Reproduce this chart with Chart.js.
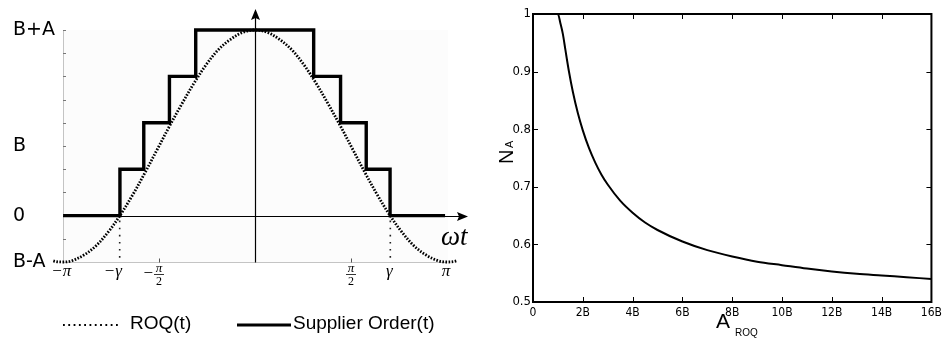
<!DOCTYPE html>
<html><head><meta charset="utf-8">
<script src="https://cdn.jsdelivr.net/npm/chart.js@4.4.1/dist/chart.umd.min.js"></script>
<style>
html,body{margin:0;padding:0;background:#fff;width:946px;height:344px;overflow:hidden}
#c1{position:absolute;left:0;top:0}
#c2{position:absolute;left:490px;top:0}
</style></head><body>
<canvas id="c1" width="490" height="344"></canvas>
<canvas id="c2" width="456" height="344"></canvas>
<script>
// ---------- Left panel data ----------
const gamma = 2.214;
const roqT = [-3.7,-3.5,-3.3,-3.14,-3.0,-2.8,-2.6,-2.4,-2.21,-2.0,-1.8,-1.6,-1.4,-1.2,-1.0,-0.8,-0.6,-0.4,-0.2,0,0.2,0.4,0.6,0.8,1.0,1.2,1.4,1.6,1.8,2.0,2.21,2.4,2.6,2.8,3.0,3.14,3.3,3.5,3.7];
const roqY = [-0.25,-0.34,-0.39,-0.40,-0.39,-0.34,-0.26,-0.14,0.00,0.18,0.37,0.57,0.77,0.96,1.14,1.30,1.43,1.52,1.58,1.60,1.58,1.52,1.43,1.30,1.14,0.96,0.77,0.57,0.37,0.18,0.00,-0.14,-0.26,-0.34,-0.39,-0.40,-0.39,-0.34,-0.25];
const orderT = [-3.14,-2.21,-2.21,-1.82,-1.82,-1.40,-1.40,-0.97,-0.97,0.96,0.96,1.40,1.40,1.82,1.82,2.21,2.21,3.11];
const orderY = [0,0,0.4,0.4,0.8,0.8,1.2,1.2,1.6,1.6,1.2,1.2,0.8,0.8,0.4,0.4,0,0];
const leftYTicks = [-0.4,-0.2,0,0.2,0.4,0.6,0.8,1.0,1.2,1.4,1.6];
const leftYLabels = ['B-A','','0','','','B','','','','','B+A'];
const leftXTicks = [-Math.PI,-gamma,-Math.PI/2,Math.PI/2,gamma,Math.PI];
const leftXLabels = ['−π','−γ','−π/2','π/2','γ','π'];
const leftXMarks = [-Math.PI/2, Math.PI/2];
const seriesNames = ['ROQ(t)','Supplier Order(t)'];

// ---------- Right panel data ----------
const aRoq = [0,0.5,1.0,1.1,1.2,1.3,1.44,1.6,1.8,2.0,2.25,2.5,2.75,3.0,3.5,4,4.5,5,6,7,8,9,10,11,12,13,14,15,16];
const nA = [1,1,1,0.984,0.965,0.938,0.901,0.865,0.828,0.798,0.767,0.742,0.721,0.704,0.676,0.655,0.638,0.625,0.605,0.590,0.579,0.570,0.564,0.558,0.553,0.549,0.546,0.543,0.540];
const rightXTicks = [0,2,4,6,8,10,12,14,16];
const rightXLabels = ['0','2B','4B','6B','8B','10B','12B','14B','16B'];
const rightYTicks = [0.5,0.6,0.7,0.8,0.9,1];
const rightYLabels = ['0.5','0.6','0.7','0.8','0.9','1'];

Chart.defaults.color = '#000';
Chart.defaults.font.family = '"Liberation Sans", Arial, sans-serif';
const narrow = '"Liberation Sans Narrow", "Arial Narrow", "DejaVu Sans Condensed", "Liberation Sans", sans-serif';

const leftDeco = {
  id: 'leftDeco',
  beforeDraw(chart) {
    const {ctx, chartArea: a} = chart;
    ctx.save();
    ctx.fillStyle = '#fcfcfc';
    ctx.fillRect(a.left + 1, a.top, a.right - a.left, a.bottom - a.top);
    ctx.restore();
  },
  beforeDatasetsDraw(chart) {
    const {ctx, chartArea: a, scales: {x, y}} = chart;
    ctx.save();
    ctx.strokeStyle = '#777'; ctx.lineWidth = 1;
    leftYTicks.forEach(v => {
      const py = Math.round(y.getPixelForValue(v)) + 0.5;
      ctx.beginPath(); ctx.moveTo(a.left, py); ctx.lineTo(a.left + 3, py); ctx.stroke();
    });
    const yb = Math.round(y.getPixelForValue(leftYTicks[0])) + 0.5;
    ctx.strokeStyle = '#c4c4c4';
    ctx.beginPath(); ctx.moveTo(x.getPixelForValue(-Math.PI), yb); ctx.lineTo(x.getPixelForValue(Math.PI), yb); ctx.stroke();
    ctx.strokeStyle = '#555';
    leftXMarks.forEach(v => {
      const px = Math.round(x.getPixelForValue(v)) + 0.5;
      ctx.beginPath(); ctx.moveTo(px, yb); ctx.lineTo(px, yb - 4); ctx.stroke();
    });
    const y0 = y.getPixelForValue(0);
    ctx.strokeStyle = '#222'; ctx.lineWidth = 1.6; ctx.setLineDash([1.6, 5.5]);
    [-gamma, gamma].forEach(v => {
      const px = x.getPixelForValue(v);
      ctx.beginPath(); ctx.moveTo(px, y0 + 5); ctx.lineTo(px, yb); ctx.stroke();
    });
    ctx.setLineDash([]);
    const x0 = Math.round(x.getPixelForValue(0)) + 0.5;
    const yz = Math.round(y0) + 0.5;
    ctx.strokeStyle = '#000'; ctx.fillStyle = '#000'; ctx.lineWidth = 1.2;
    ctx.beginPath(); ctx.moveTo(a.left, yz); ctx.lineTo(a.right + 14, yz); ctx.stroke();
    ctx.beginPath(); ctx.moveTo(a.right + 21, yz); ctx.lineTo(a.right + 10, yz - 4.5); ctx.lineTo(a.right + 12, yz); ctx.lineTo(a.right + 10, yz + 4.5); ctx.closePath(); ctx.fill();
    ctx.beginPath(); ctx.moveTo(x0, yb); ctx.lineTo(x0, a.top - 14); ctx.stroke();
    ctx.beginPath(); ctx.moveTo(x0, a.top - 21); ctx.lineTo(x0 - 4.5, a.top - 10); ctx.lineTo(x0, a.top - 12); ctx.lineTo(x0 + 4.5, a.top - 10); ctx.closePath(); ctx.fill();
    ctx.restore();
  },
  afterDraw(chart) {
    const {ctx, chartArea: a, scales: {x, y}} = chart;
    ctx.save();
    ctx.fillStyle = '#000'; ctx.strokeStyle = '#000';
    const ly = a.bottom + 10;
    leftXLabels.forEach((lab, i) => {
      const px = x.getPixelForValue(leftXTicks[i]);
      const neg = lab.startsWith('−');
      const body = neg ? lab.slice(1) : lab;
      ctx.textBaseline = 'middle';
      if (body.includes('/')) {
        const [num, den] = body.split('/');
        ctx.textAlign = 'center';
        ctx.font = 'italic 13px "Liberation Serif", serif';
        ctx.fillText(num, px, ly - 3);
        ctx.font = '12px "Liberation Serif", serif';
        ctx.fillText(den, px, ly + 10);
        ctx.lineWidth = 0.8;
        ctx.beginPath(); ctx.moveTo(px - 5, ly + 2.5); ctx.lineTo(px + 5, ly + 2.5); ctx.stroke();
        if (neg) {
          ctx.font = '17px "Liberation Serif", serif';
          ctx.textAlign = 'right';
          ctx.fillText('−', px - 6, ly + 2);
        }
      } else {
        ctx.font = 'italic 17px "Liberation Serif", serif';
        ctx.textAlign = 'center';
        const w = ctx.measureText(body).width;
        const cx = neg && body === 'π' ? px + 4 : px - 1;
        ctx.fillText(body, cx, ly);
        if (neg) {
          ctx.font = '17px "Liberation Serif", serif';
          ctx.textAlign = 'right';
          ctx.fillText('−', cx - w / 2 - 1, ly);
        }
      }
    });
    ctx.textAlign = 'left'; ctx.textBaseline = 'alphabetic';
    ctx.font = 'italic 27px "Liberation Serif", serif';
    ctx.fillText('ωt', a.right - 6, y.getPixelForValue(0) + 29);
    const lg = 325;
    ctx.lineWidth = 2; ctx.setLineDash([1.8, 3.5]);
    ctx.beginPath(); ctx.moveTo(63, lg); ctx.lineTo(119, lg); ctx.stroke();
    ctx.setLineDash([]);
    ctx.lineWidth = 3.2;
    ctx.beginPath(); ctx.moveTo(237, lg); ctx.lineTo(291, lg); ctx.stroke();
    ctx.font = '19px "Liberation Sans", Arial, sans-serif';
    ctx.textBaseline = 'middle';
    ctx.fillText(seriesNames[0], 130, lg - 1);
    ctx.fillText(seriesNames[1], 293, lg - 1);
    ctx.restore();
  }
};

new Chart(document.getElementById('c1'), {
  type: 'line',
  data: {
    datasets: [
      { label: seriesNames[0], data: roqT.map((t, i) => ({x: t, y: roqY[i]})),
        borderColor: '#000', borderWidth: 2.8, borderDash: [1.6, 1.5], pointRadius: 0,
        tension: 0.35, clip: false, fill: false },
      { label: seriesNames[1], data: orderT.map((t, i) => ({x: t, y: orderY[i]})),
        borderColor: '#000', borderWidth: 3.4, pointRadius: 0, tension: 0,
        borderJoinStyle: 'miter', borderCapStyle: 'butt', clip: false, fill: false }
    ]
  },
  options: {
    responsive: false, animation: false, devicePixelRatio: 1,
    layout: { padding: { left: 13, right: 43, top: 30, bottom: 82 } },
    plugins: { legend: { display: false }, tooltip: { enabled: false } },
    scales: {
      x: { type: 'linear', min: -Math.PI, max: Math.PI, display: false },
      y: {
        type: 'linear', min: -0.4, max: 1.6, position: 'left',
        afterBuildTicks(s) { s.ticks = leftYTicks.map(v => ({value: v})); },
        afterFit(s) { s.width = 50; },
        ticks: { autoSkip: false, crossAlign: 'far', padding: 0,
          font: { size: 19, family: '"DejaVu Sans", sans-serif' }, color: '#000',
          callback: (v, i) => leftYLabels[i] },
        grid: { drawOnChartArea: false, drawTicks: false },
        border: { display: true, color: '#c4c4c4', width: 1 }
      }
    }
  },
  plugins: [leftDeco]
});

const rightDeco = {
  id: 'rightDeco',
  afterDraw(chart) {
    const {ctx, chartArea: a, scales: {x, y}} = chart;
    ctx.save();
    ctx.strokeStyle = '#000'; ctx.lineWidth = 1;
    rightXTicks.forEach(v => {
      const px = Math.round(x.getPixelForValue(v)) + 0.5;
      ctx.beginPath(); ctx.moveTo(px, a.bottom); ctx.lineTo(px, a.bottom - 5); ctx.stroke();
      ctx.beginPath(); ctx.moveTo(px, a.top); ctx.lineTo(px, a.top + 5); ctx.stroke();
    });
    rightYTicks.forEach(v => {
      const py = Math.round(y.getPixelForValue(v)) + 0.5;
      ctx.beginPath(); ctx.moveTo(a.left, py); ctx.lineTo(a.left + 5, py); ctx.stroke();
      ctx.beginPath(); ctx.moveTo(a.right, py); ctx.lineTo(a.right - 5, py); ctx.stroke();
    });
    ctx.lineWidth = 2;
    ctx.strokeRect(a.left, a.top, a.right - a.left, a.bottom - a.top);
    ctx.fillStyle = '#000';
    ctx.textAlign = 'left'; ctx.textBaseline = 'alphabetic';
    ctx.font = '21px "Liberation Sans", Arial, sans-serif';
    ctx.fillText('A', 226, 328);
    ctx.font = '10px "Liberation Sans", Arial, sans-serif';
    ctx.fillText('ROQ', 245, 336);
    ctx.translate(23, 164);
    ctx.rotate(-Math.PI / 2);
    ctx.font = '20px "Liberation Sans", Arial, sans-serif';
    ctx.fillText('N', 0, 0);
    ctx.font = '11px "Liberation Sans", Arial, sans-serif';
    ctx.fillText('A', 16, 0);
    ctx.restore();
  }
};

new Chart(document.getElementById('c2'), {
  type: 'line',
  data: {
    datasets: [{
      label: 'N_A', data: aRoq.map((v, i) => ({x: v, y: nA[i]})),
      borderColor: '#000', borderWidth: 2, pointRadius: 0,
      cubicInterpolationMode: 'monotone', fill: false
    }]
  },
  options: {
    responsive: false, animation: false, devicePixelRatio: 1,
    layout: { padding: { left: 0, right: 12, top: 14, bottom: 0 } },
    plugins: { legend: { display: false }, tooltip: { enabled: false } },
    scales: {
      x: {
        type: 'linear', min: 0, max: 16,
        afterBuildTicks(s) { s.ticks = rightXTicks.map(v => ({value: v})); },
        afterFit(s) { s.height = 42; },
        ticks: { autoSkip: false, maxRotation: 0, padding: 4, font: { size: 12, family: narrow },
          callback: (v, i) => rightXLabels[i] },
        grid: { display: false, drawTicks: false },
        border: { display: false }
      },
      y: {
        type: 'linear', min: 0.5, max: 1,
        afterBuildTicks(s) { s.ticks = rightYTicks.map(v => ({value: v})); },
        afterFit(s) { s.width = 43; },
        ticks: { autoSkip: false, padding: 2, font: { size: 13, family: narrow },
          callback: (v, i) => rightYLabels[i] },
        grid: { display: false, drawTicks: false },
        border: { display: false }
      }
    }
  },
  plugins: [rightDeco]
});
</script>
</body></html>
